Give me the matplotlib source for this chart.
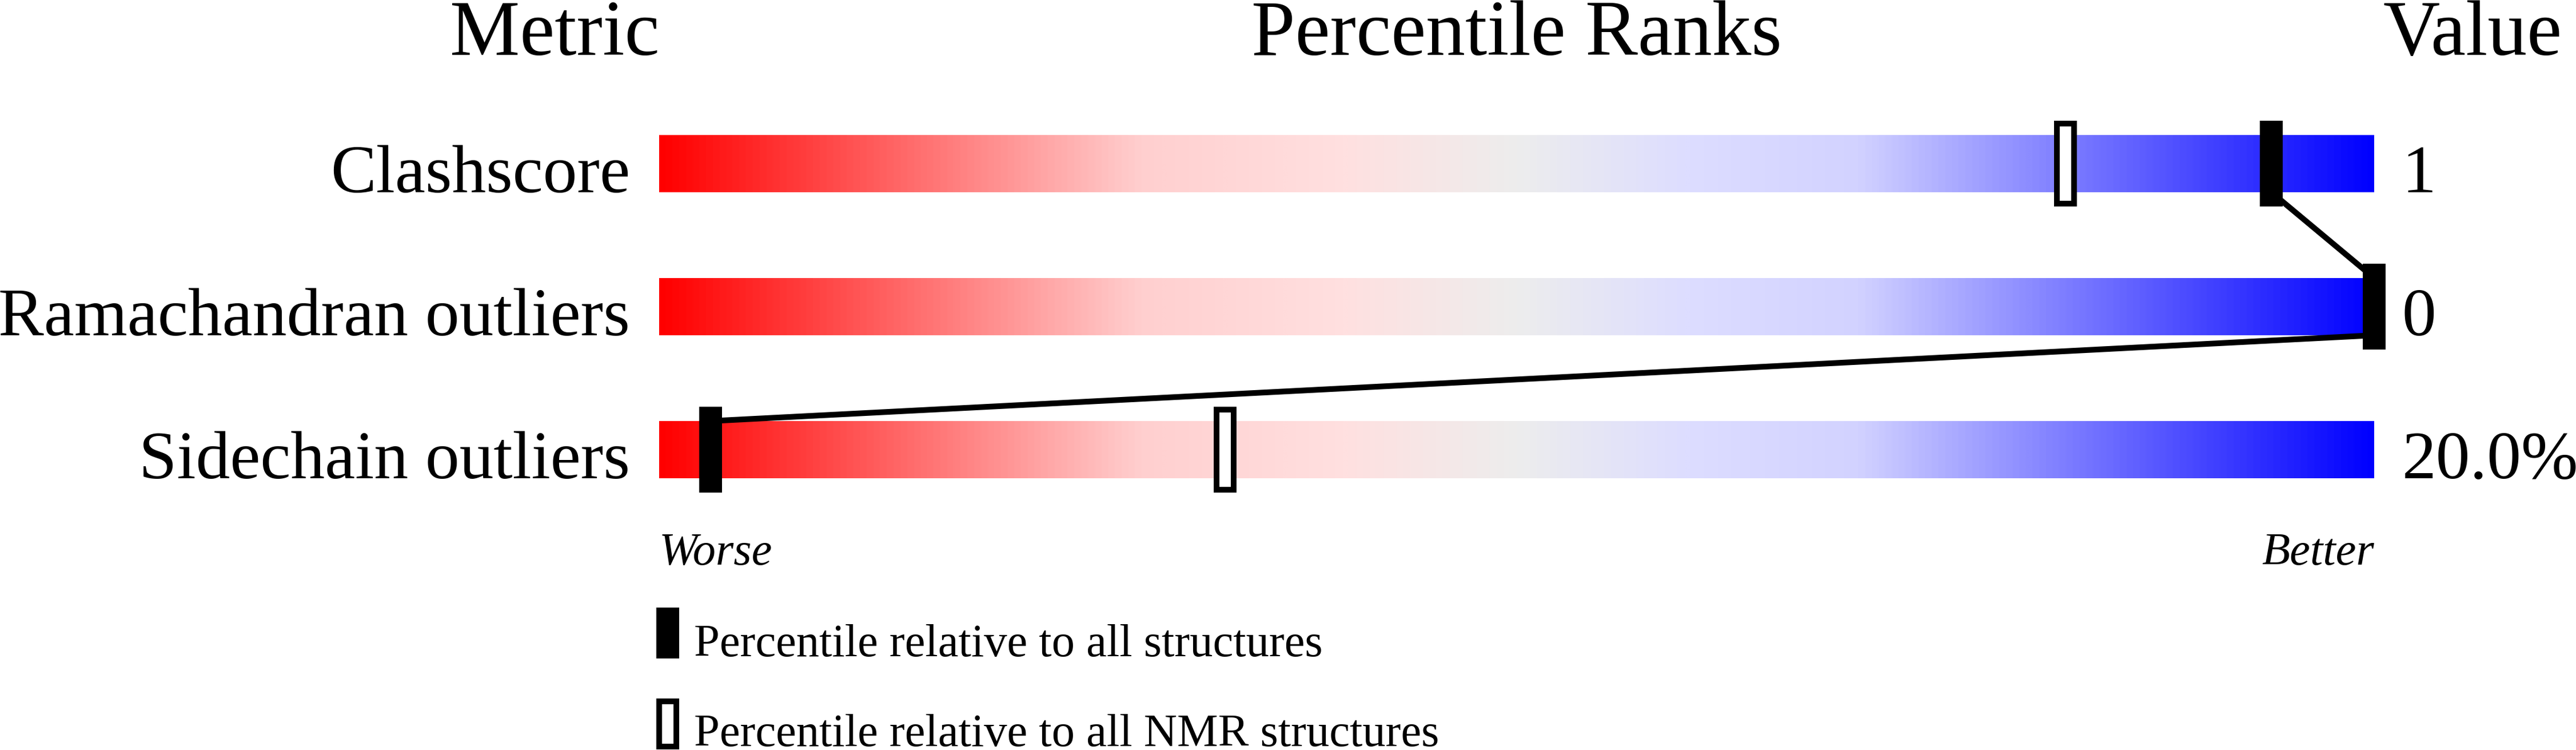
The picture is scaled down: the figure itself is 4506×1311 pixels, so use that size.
import numpy as np
import matplotlib
matplotlib.use("Agg")
import matplotlib.pyplot as plt
from matplotlib.colors import LinearSegmentedColormap
from matplotlib.patches import Rectangle
from matplotlib.transforms import Affine2D

# ---------------- data ----------------
metrics = ["Clashscore", "Ramachandran outliers", "Sidechain outliers"]
values = ["1", "0", "20.0%"]
pct_all = [94, 100, 3]      # percentile relative to all structures
pct_nmr = [82, 100, 33]     # percentile relative to all NMR structures
titles = ["Metric", "Percentile Ranks", "Value"]
legend_labels = ["Percentile relative to all structures",
                 "Percentile relative to all NMR structures"]
end_labels = ["Worse", "Better"]

# ---------------- layout ----------------
W, H = 4506, 1311
plt.rcParams["font.family"] = ["Liberation Serif", "DejaVu Serif"]
fig = plt.figure(figsize=(W / 100, H / 100), dpi=100)
BAR_L, BAR_R = 1153, 4153
ax = fig.add_axes([BAR_L / W, 0, (BAR_R - BAR_L) / W, 1])
px = Affine2D().scale(1, -1).translate(0, H)   # top-down figure pixels
ppu = (BAR_R - BAR_L) / 100.0                   # pixels per percentile unit

row_centers = [286, 536, 786]
bar_half = 50
mk_half = 75
mk_w = 40

cmap = LinearSegmentedColormap.from_list("slider", [
    (0.00, "#FF0000"),
    (0.28, "#FFCFCF"),
    (0.40, "#FFE0E0"),
    (0.50, "#EDEDED"),
    (0.60, "#DDDDFF"),
    (0.70, "#D2D2FF"),
    (1.00, "#0000FF"),
])
grad = np.linspace(0, 1, 1024)[None, :]
for c in row_centers:
    ax.imshow(grad, cmap=cmap, extent=(0, 100, c + bar_half, c - bar_half),
              aspect="auto", interpolation="bilinear", zorder=1)

# connecting lines between "all structures" markers
for i in range(len(pct_all) - 1):
    ax.plot([pct_all[i], pct_all[i + 1]],
            [row_centers[i] + bar_half, row_centers[i + 1] - bar_half],
            color="black", lw=7.2, solid_capstyle="butt", zorder=3, clip_on=False)

# markers
for p, c in zip(pct_nmr, row_centers):
    ax.add_patch(Rectangle((p - (mk_w - 10) / 2 / ppu, c - (mk_half - 5)),
                           (mk_w - 10) / ppu, 2 * (mk_half - 5),
                           facecolor="white", edgecolor="black", lw=7.2,
                           joinstyle="miter", zorder=4, clip_on=False))
for p, c in zip(pct_all, row_centers):
    ax.add_patch(Rectangle((p - mk_w / 2 / ppu, c - mk_half), mk_w / ppu, 2 * mk_half,
                           facecolor="black", edgecolor="none", zorder=5, clip_on=False))

ax.set_xlim(0, 100)
ax.set_ylim(H, 0)
ax.axis("off")

# ---------------- text ----------------
for t, x in zip(titles, [970, 2653, 4325]):
    fig.text(x, 96, t, ha="center", va="baseline", fontsize=99, transform=px)
for m, v, c in zip(metrics, values, row_centers):
    fig.text(1102, c + 50, m, ha="right", va="baseline", fontsize=86, transform=px)
    fig.text(4202, c + 50, v, ha="left", va="baseline", fontsize=86, transform=px)

fig.text(BAR_L, 987, end_labels[0], ha="left", va="baseline", fontsize=58,
         style="italic", transform=px)
fig.text(BAR_R, 987, end_labels[1], ha="right", va="baseline", fontsize=58,
         style="italic", transform=px)

# legend
fig.add_artist(Rectangle((1148, 1062), 40, 89, facecolor="black",
                         edgecolor="none", transform=px))
fig.add_artist(Rectangle((1153, 1226), 30, 79, facecolor="white",
                         edgecolor="black", lw=7.2, joinstyle="miter", transform=px))
fig.text(1214, 1147, legend_labels[0], ha="left", va="baseline", fontsize=58, transform=px)
fig.text(1214, 1304, legend_labels[1], ha="left", va="baseline", fontsize=58, transform=px)

fig.savefig("out.png", dpi=100, facecolor="white")
